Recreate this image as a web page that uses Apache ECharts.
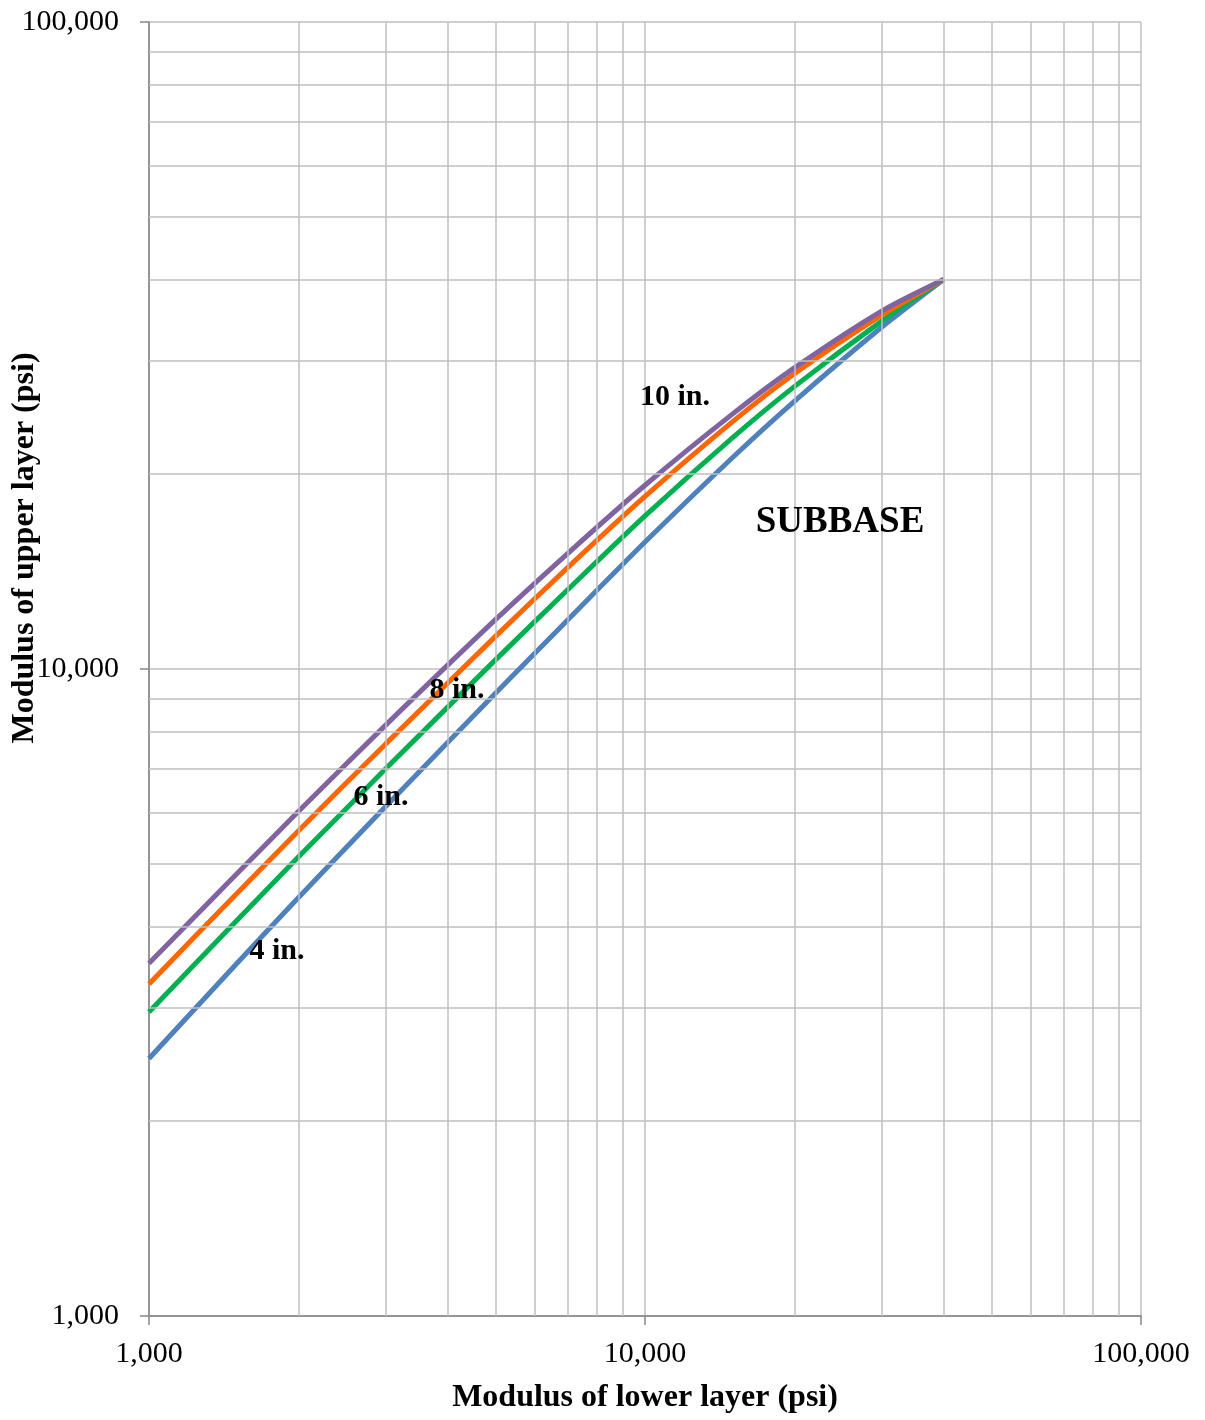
<!DOCTYPE html>
<html>
<head>
<meta charset="utf-8">
<script src="https://cdn.jsdelivr.net/npm/echarts@6/dist/echarts.min.js"></script>
<style>
  html, body { margin: 0; padding: 0; background: #fff; }
  #main { width: 1205px; height: 1420px; }
</style>
</head>
<body>
<div id="main"></div>
<script>
// lower layer modulus (psi)
var lowerModulus = [1000, 1500, 2000, 3000, 5000, 7000, 10000, 15000, 20000, 30000, 40000];
// upper layer modulus for each subbase thickness
var upper4in  = [2500, 3500, 4430, 6130, 9180, 11930, 15710, 21210, 25930, 33750, 40000];
var upper6in  = [2950, 4080, 5120, 7010, 10340, 13280, 17240, 22760, 27320, 34490, 40000];
var upper8in  = [3260, 4490, 5620, 7660, 11240, 14370, 18480, 24100, 28600, 35240, 40000];
var upper10in = [3510, 4815, 6020, 8190, 11930, 15110, 19230, 24770, 29200, 35750, 40000];

// minor grid values (2..9 of each decade)
var minorGrid = [2000, 3000, 4000, 5000, 6000, 7000, 8000, 9000,
                 20000, 30000, 40000, 50000, 60000, 70000, 80000, 90000];

var FONT = '"Liberation Serif", "Times New Roman", serif';

function pairs(xs, ys) {
    return xs.map(function (x, i) { return [x, ys[i]]; });
}

function fmt(v) {
    return Math.round(v).toLocaleString('en-US');
}

function curve(name, color, ys) {
    return {
        name: name,
        type: 'line',
        data: pairs(lowerModulus, ys),
        smooth: 0.25,
        showSymbol: false,
        symbol: 'none',
        lineStyle: { color: color, width: 5 },
        z: 3
    };
}

var gridLine = { color: '#bfbfbf', width: 1.5, type: 'solid' };

var myChart = echarts.init(document.getElementById('main'));
myChart.setOption({
    animation: false,
    backgroundColor: '#ffffff',
    grid: { left: 149, top: 22, right: 64, bottom: 104 },
    xAxis: {
        type: 'log',
        logBase: 10,
        min: 1000,
        max: 100000,
        name: 'Modulus of lower layer (psi)',
        nameLocation: 'middle',
        nameGap: 66,
        nameTextStyle: { fontFamily: FONT, fontSize: 32, fontWeight: 'bold', color: '#000' },
        axisLine: { lineStyle: { color: '#868686', width: 1.5 } },
        axisTick: { show: true, length: 9, lineStyle: { color: '#868686', width: 1.5 } },
        axisLabel: { fontFamily: FONT, fontSize: 30, color: '#000', margin: 23, formatter: fmt },
        splitLine: { show: true, lineStyle: gridLine }
    },
    yAxis: {
        type: 'log',
        logBase: 10,
        min: 1000,
        max: 100000,
        axisLine: { show: true, lineStyle: { color: '#868686', width: 1.5 } },
        axisTick: { show: true, length: 9, lineStyle: { color: '#868686', width: 1.5 } },
        axisLabel: { fontFamily: FONT, fontSize: 30, color: '#000', margin: 30, formatter: fmt },
        splitLine: { show: true, lineStyle: gridLine }
    },
    graphic: [
        {
            type: 'text', x: 25, y: 548, rotation: Math.PI / 2,
            style: { text: 'Modulus of upper layer (psi)', font: 'bold 32px ' + FONT, fill: '#000',
                     textAlign: 'center', textVerticalAlign: 'middle' }
        },
        { type: 'text', x: 675, y: 397, z: 10,
          style: { text: '10 in.', font: 'bold 30px ' + FONT, fill: '#000', textAlign: 'center', textVerticalAlign: 'middle' } },
        { type: 'text', x: 840, y: 522, z: 10,
          style: { text: 'SUBBASE', font: 'bold 37px ' + FONT, fill: '#000', textAlign: 'center', textVerticalAlign: 'middle' } },
        { type: 'text', x: 457, y: 690, z: 10,
          style: { text: '8 in.', font: 'bold 30px ' + FONT, fill: '#000', textAlign: 'center', textVerticalAlign: 'middle' } },
        { type: 'text', x: 381, y: 797, z: 10,
          style: { text: '6 in.', font: 'bold 30px ' + FONT, fill: '#000', textAlign: 'center', textVerticalAlign: 'middle' } },
        { type: 'text', x: 277, y: 951, z: 10,
          style: { text: '4 in.', font: 'bold 30px ' + FONT, fill: '#000', textAlign: 'center', textVerticalAlign: 'middle' } }
    ],
    series: [
        {
            // minor log gridlines
            type: 'line',
            data: [],
            silent: true,
            z: 1,
            markLine: {
                silent: true,
                symbol: ['none', 'none'],
                label: { show: false },
                lineStyle: gridLine,
                animation: false,
                data: minorGrid.map(function (v) { return { xAxis: v }; })
                    .concat(minorGrid.map(function (v) { return { yAxis: v }; }))
            }
        },
        curve('4 in.', '#4f81bd', upper4in),
        curve('6 in.', '#00b050', upper6in),
        curve('8 in.', '#ff6600', upper8in),
        curve('10 in.', '#8064a2', upper10in)
    ]
});
</script>
</body>
</html>
